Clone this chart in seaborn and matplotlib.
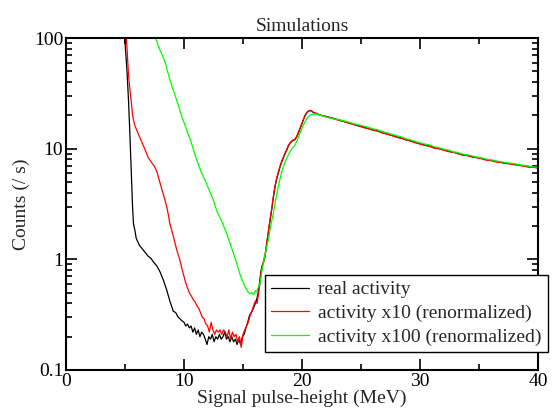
import pandas as pd
import matplotlib
matplotlib.use("Agg")
import matplotlib.pyplot as plt
from matplotlib.ticker import LogLocator, FixedLocator, NullFormatter, MultipleLocator
import seaborn as sns

# values (MeV, counts per second)
black_x = [4.95, 5.17, 5.30, 5.42, 5.55, 5.64, 5.72, 5.85, 5.95, 6.2, 6.55, 6.95, 7.2, 7.4, 7.7,
           7.97, 8.25, 8.53, 8.8, 9.09, 9.3, 9.5, 9.66, 9.8, 10.0, 10.15, 10.3, 10.45, 10.6, 10.75,
           10.9, 11.05, 11.2, 11.35, 11.5, 11.65, 11.8, 11.95, 12.1, 12.25, 12.4, 12.55, 12.7, 12.85,
           13.0, 13.15, 13.3, 13.45, 13.6, 13.75, 13.9, 14.05, 14.2, 14.35, 14.5, 14.65, 14.8, 14.95,
           15.1, 15.25, 15.4, 15.55, 15.7, 15.88, 16.05, 16.2, 16.35, 16.5, 16.6, 16.75, 16.86, 17.0,
           17.14, 17.28, 17.43, 17.57, 17.71, 17.85, 17.99, 18.13, 18.28, 18.5, 18.7, 18.85, 18.98,
           19.2, 19.41, 19.55, 19.69, 19.9, 20.11, 20.25, 20.4, 20.55, 20.68, 20.82, 20.96, 21.2,
           21.53, 22.0, 22.66, 23.2, 23.6, 24.0, 24.4, 24.8, 25.2, 25.6, 26.0, 26.4, 26.8, 27.2, 27.6,
           28.0, 28.4, 28.8, 29.2, 29.6, 30.0, 30.4, 30.8, 31.2, 31.6, 32.0, 32.4, 32.8, 33.2, 33.6,
           34.0, 34.4, 34.8, 35.2, 35.6, 36.0, 36.4, 36.8, 37.2, 37.6, 38.0, 38.4, 38.8, 39.2, 39.6, 40.0]
black_y = [110, 50, 27, 13, 5.5, 3.0, 2.1, 1.8, 1.55, 1.35, 1.21, 1.07, 1.02, 0.95, 0.87,
           0.77, 0.65, 0.53, 0.42, 0.34, 0.33, 0.30, 0.29, 0.28, 0.27, 0.25, 0.26, 0.24, 0.25, 0.22,
           0.24, 0.21, 0.23, 0.20, 0.22, 0.21, 0.19, 0.17, 0.20, 0.19, 0.21, 0.18, 0.20, 0.19,
           0.21, 0.19, 0.20, 0.22, 0.19, 0.20, 0.18, 0.20, 0.18, 0.19, 0.17, 0.19, 0.17, 0.20,
           0.21, 0.24, 0.27, 0.31, 0.33, 0.36, 0.40, 0.45, 0.55, 0.75, 0.86, 0.95, 1.05, 1.35,
           1.72, 2.2, 2.8, 3.6, 4.5, 5.3, 6.0, 6.8, 7.6, 8.7, 9.7, 10.6, 11.2,
           11.8, 12.1, 12.8, 13.8, 15.8, 18.2, 19.8, 21.1, 21.8, 22.1, 21.9, 21.2, 20.7,
           20.1, 19.6, 18.8, 18.1, 17.5, 17.1, 16.6, 16.0, 15.7, 15.2, 14.8, 14.5, 13.9, 13.6, 13.2,
           12.8, 12.5, 12.0, 11.8, 11.4, 11.1, 10.8, 10.6, 10.2, 10.0, 9.8, 9.5, 9.3, 9.1, 8.8,
           8.7, 8.5, 8.3, 8.2, 7.95, 7.85, 7.7, 7.55, 7.45, 7.3, 7.25, 7.1, 7.0, 6.9, 6.85, 6.75]

red_x = [5.1, 5.2, 5.28, 5.35, 5.42, 5.5, 5.57, 5.65, 5.72, 5.85, 6.1, 6.45, 6.7, 6.97, 7.25,
         7.5, 7.7, 7.9, 8.1, 8.3, 8.5, 8.65, 8.8, 8.95, 9.1, 9.25, 9.4, 9.55, 9.66, 9.8, 10.0,
         10.15, 10.3, 10.45, 10.6, 10.8, 10.95, 11.1, 11.25, 11.4, 11.55, 11.7, 11.85, 12.0, 12.15,
         12.3, 12.45, 12.6, 12.75, 12.9, 13.05, 13.2, 13.35, 13.5, 13.65, 13.8, 13.95, 14.1, 14.25,
         14.4, 14.55, 14.7, 14.85, 15.0, 15.15, 15.3, 15.45, 15.6, 15.75, 15.9, 16.05, 16.2, 16.3,
         16.45, 16.6, 16.75, 16.9, 17.0, 17.14, 17.28, 17.43, 17.57, 17.71, 17.85, 17.99, 18.13,
         18.28, 18.5, 18.7, 18.85, 18.98, 19.2, 19.41, 19.55, 19.69, 19.9, 20.11, 20.25, 20.4,
         20.55, 20.68, 20.82, 20.96, 21.2, 21.53, 22.0, 22.66, 23.2, 23.6, 24.0, 24.4, 24.8, 25.2,
         25.6, 26.0, 26.4, 26.8, 27.2, 27.6, 28.0, 28.4, 28.8, 29.2, 29.6, 30.0, 30.4, 30.8, 31.2,
         31.6, 32.0, 32.4, 32.8, 33.2, 33.6, 34.0, 34.4, 34.8, 35.2, 35.6, 36.0, 36.4, 36.8, 37.2,
         37.6, 38.0, 38.4, 38.8, 39.2, 39.6, 40.0]
red_y = [110, 70, 50, 40, 34, 28, 24, 20, 18.2, 16.0, 13.8, 11.3, 9.8, 8.3, 7.5,
         6.9, 6.2, 5.2, 4.4, 3.7, 3.1, 2.6, 2.1, 1.85, 1.6, 1.38, 1.2, 1.07, 0.98, 0.84, 0.70,
         0.61, 0.55, 0.50, 0.47, 0.43, 0.41, 0.38, 0.36, 0.33, 0.30, 0.29, 0.26, 0.25, 0.22,
         0.27, 0.23, 0.21, 0.23, 0.22, 0.23, 0.21, 0.23, 0.22, 0.20, 0.23, 0.19, 0.22, 0.20,
         0.21, 0.18, 0.20, 0.16, 0.21, 0.23, 0.25, 0.27, 0.31, 0.34, 0.38, 0.42, 0.40, 0.48,
         0.62, 0.85, 0.98, 1.15, 1.4, 1.75, 2.25, 2.85, 3.7, 4.6, 5.4, 6.1, 6.9,
         7.7, 8.8, 9.8, 10.7, 11.3, 11.9, 12.2, 12.9, 14.0, 16.0, 18.4, 20.0, 21.2,
         21.9, 22.2, 22.0, 21.3, 20.9, 20.2, 19.5, 18.7, 17.9, 17.6, 16.9, 16.5, 16.1, 15.5,
         15.2, 14.7, 14.4, 14.0, 13.5, 13.2, 12.7, 12.4, 12.1, 11.7, 11.3, 11.0, 10.7, 10.5, 10.1,
         10.0, 9.7, 9.4, 9.3, 9.0, 8.75, 8.65, 8.4, 8.3, 8.1, 7.9, 7.8, 7.6, 7.5, 7.35,
         7.3, 7.15, 7.05, 6.95, 6.8, 6.8, 6.65]

green_x = [7.5, 7.8, 8.1, 8.39, 8.6, 8.81, 9.0, 9.24, 9.5, 9.8, 10.08, 10.3, 10.6, 10.93, 11.2,
           11.5, 11.78, 12.1, 12.48, 12.8, 13.2, 13.61, 14.0, 14.47, 14.8, 15.17, 15.4, 15.59, 15.75,
           15.9, 16.05, 16.16, 16.3, 16.44, 16.58, 16.72, 16.9, 17.14, 17.35, 17.57, 17.78, 17.99,
           18.2, 18.42, 18.7, 18.98, 19.2, 19.41, 19.6, 19.83, 20.05, 20.25, 20.45, 20.68, 20.95,
           21.24, 21.6, 22.09, 22.66, 23.2, 23.6, 24.0, 24.4, 24.8, 25.2, 25.6, 26.0, 26.4, 26.8,
           27.2, 27.6, 28.0, 28.4, 28.8, 29.2, 29.6, 30.0, 30.4, 30.8, 31.2, 31.6, 32.0, 32.4, 32.8,
           33.2, 33.6, 34.0, 34.4, 34.8, 35.2, 35.6, 36.0, 36.4, 36.8, 37.2, 37.6, 38.0, 38.4, 38.8,
           39.2, 39.6, 40.0]
green_y = [110, 85, 72, 61, 50, 42, 36, 30.5, 25, 19.5, 16.4, 14.0, 11.5, 8.8, 7.3,
           6.0, 5.2, 4.3, 3.44, 2.7, 2.2, 1.72, 1.3, 0.92, 0.70, 0.565, 0.51, 0.49, 0.50,
           0.48, 0.52, 0.51, 0.56, 0.60, 0.75, 0.92, 1.15, 1.49, 2.0, 2.6, 3.5, 4.53,
           5.7, 6.87, 8.2, 9.4, 10.2, 10.8, 12.0, 13.8, 15.8, 17.5, 19.0, 20.1, 20.5,
           20.6, 20.0, 19.2, 18.6, 18.2, 17.8, 17.3, 16.8, 16.4, 16.0, 15.6, 15.1, 14.8, 14.3,
           13.9, 13.5, 13.1, 12.8, 12.3, 12.0, 11.6, 11.3, 11.0, 10.8, 10.4, 10.2, 9.9, 9.7, 9.4,
           9.2, 8.95, 8.8, 8.6, 8.4, 8.25, 8.05, 7.95, 7.75, 7.65, 7.5, 7.4, 7.3, 7.15, 7.05,
           6.95, 6.85, 6.8]

labels = ["real activity", "activity x10 (renormalized)", "activity x100 (renormalized)"]
colors = ["#000000", "#ff0000", "#00ff00"]

df = pd.concat([
    pd.DataFrame({"energy": black_x, "counts": black_y, "series": labels[0]}),
    pd.DataFrame({"energy": red_x, "counts": red_y, "series": labels[1]}),
    pd.DataFrame({"energy": green_x, "counts": green_y, "series": labels[2]}),
])

sns.set_style("ticks")
plt.rcParams["font.family"] = ["Liberation Serif", "DejaVu Serif"]

fig = plt.figure(figsize=(5.52, 4.12), dpi=100)
ax = fig.add_axes([66 / 552, 42 / 412, 472 / 552, 332 / 412])

sns.lineplot(data=df, x="energy", y="counts", hue="series", hue_order=labels,
             palette=colors, estimator=None, sort=False, linewidth=0.9, ax=ax, legend=False)

ax.set_yscale("log")
ax.set_xlim(0, 40)
ax.set_ylim(0.1, 100)

ax.xaxis.set_major_locator(MultipleLocator(10))
ax.xaxis.set_minor_locator(MultipleLocator(5))
ax.yaxis.set_major_locator(FixedLocator([0.1, 1, 10, 100]))
ax.yaxis.set_minor_locator(LogLocator(base=10, subs=range(2, 10)))
ax.yaxis.set_minor_formatter(NullFormatter())
ax.set_yticklabels(["0.1", "1", "10", "100"])

ax.tick_params(which="both", direction="in", top=True, right=True, width=1.2,
               labelsize=14, colors="black", pad=2)
ax.tick_params(which="major", length=8)
ax.tick_params(which="minor", length=4.5)
for s in ax.spines.values():
    s.set_linewidth(1.5)
    s.set_color("black")

ax.set_title("Simulations", fontsize=14, pad=5)
ax.set_xlabel("Signal pulse-height (MeV)", fontsize=14, labelpad=0)
ax.set_ylabel("Counts (/ s)", fontsize=14, labelpad=3)

handles = ax.get_lines()[:3]
leg = ax.legend(handles, labels, loc="upper left", bbox_to_anchor=(199 / 472, 95 / 332),
                fontsize=14, frameon=True, fancybox=False, borderpad=0.3, labelspacing=0.32,
                handlelength=1.95, handletextpad=0.5, borderaxespad=0)
leg.get_frame().set_edgecolor("black")
leg.get_frame().set_linewidth(1.0)
leg.get_frame().set_alpha(1)

fig.savefig("out.png", dpi=100)
